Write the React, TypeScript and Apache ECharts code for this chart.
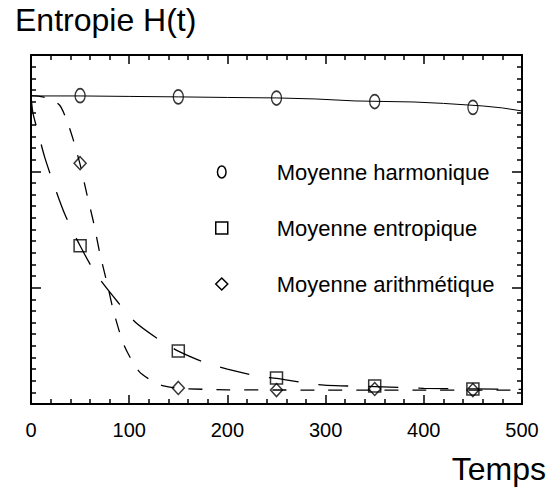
import React, { useEffect, useRef } from "react";
import * as echarts from "echarts";

const FONT = "'Liberation Sans', Arial, Helvetica, sans-serif";

const xMin = 0;
const xMax = 500;
const xInterval = 100;
const yMin = 0;
const yMax = 3;
const yInterval = 1;

const seriesNames = ["Moyenne harmonique", "Moyenne entropique", "Moyenne arithmétique"];

// Marker positions (sample times) and values
const markerX = [50, 150, 250, 350, 450];
const harmonicMarkers = [2.65, 2.64, 2.63, 2.6, 2.55];
const entropicMarkers = [1.36, 0.456, 0.224, 0.155, 0.129];
const arithmeticMarkers = [2.07, 0.138, 0.12, 0.129, 0.12];

// Curves
const harmonicCurveX = [0, 50, 100, 150, 200, 250, 290, 330, 390, 420, 460, 480, 500];
const harmonicCurveY = [2.648, 2.648, 2.644, 2.64, 2.635, 2.631, 2.622, 2.605, 2.596, 2.584, 2.562, 2.545, 2.519];

const entropicCurveX = [0, 2, 7, 14, 26, 35, 50, 66, 89, 106, 131, 150, 179, 200, 231, 250, 287, 310, 350, 400, 450, 500];
const entropicCurveY = [2.65, 2.5, 2.34, 2.12, 1.82, 1.62, 1.36, 1.12, 0.87, 0.705, 0.55, 0.455, 0.35, 0.3, 0.24, 0.22, 0.172, 0.158, 0.15, 0.135, 0.13, 0.125];

const arithmeticCurveX = [0, 12, 20, 29, 35, 42, 50, 57, 64, 70, 78, 84, 95, 110, 125, 135, 150, 200, 300, 400, 500];
const arithmeticCurveY = [2.65, 2.64, 2.62, 2.57, 2.47, 2.3, 2.06, 1.8, 1.55, 1.3, 1.02, 0.8, 0.5, 0.28, 0.19, 0.155, 0.135, 0.122, 0.12, 0.12, 0.12];

const zip = (xs: number[], ys: number[]) => xs.map((x, i) => [x, ys[i]]);

const ELLIPSE = "path://M5,0 A5,7 0 1,1 5,14 A5,7 0 1,1 5,0 Z";
const SQUARE = "path://M0,0 L10,0 L10,10 L0,10 Z";
const DIAMOND = "path://M5,0 L10,5 L5,10 L0,5 Z";

export default function App() {
  const ref = useRef<HTMLDivElement>(null);

  useEffect(() => {
    if (!ref.current) return;
    const chart = echarts.init(ref.current, undefined, { renderer: "svg" });

    const axisCommon = {
      type: "value" as const,
      axisLine: { show: true, onZero: false, lineStyle: { color: "#000", width: 2 } },
      splitLine: { show: false },
    };

    const markerStyle = { color: "rgba(0,0,0,0)", borderColor: "#000", borderWidth: 1.5 };

    chart.setOption({
      animation: false,
      backgroundColor: "#fff",
      textStyle: { fontFamily: FONT },
      title: [
        {
          text: "Entropie H(t)",
          left: 15,
          top: 4,
          padding: 0,
          textStyle: { fontFamily: FONT, fontSize: 32, fontWeight: "normal", color: "#000" },
        },
        {
          text: "Temps",
          right: 3,
          top: 453,
          padding: 0,
          textStyle: { fontFamily: FONT, fontSize: 32, fontWeight: "normal", color: "#000" },
        },
      ],
      grid: { left: 31, right: 27, top: 55, bottom: 85, containLabel: false },
      legend: {
        orient: "vertical",
        left: 210,
        top: 156,
        itemGap: 34,
        itemWidth: 12,
        itemHeight: 12,
        selectedMode: false,
        textStyle: { fontFamily: FONT, fontSize: 22, color: "#000", padding: [0, 0, 0, 44] },
        data: [
          { name: seriesNames[0], icon: ELLIPSE, itemStyle: markerStyle },
          { name: seriesNames[1], icon: SQUARE, itemStyle: markerStyle },
          { name: seriesNames[2], icon: DIAMOND, itemStyle: markerStyle },
        ],
      },
      xAxis: [
        {
          ...axisCommon,
          min: xMin,
          max: xMax,
          interval: xInterval,
          position: "bottom",
          axisTick: { show: true, inside: true, length: 9, lineStyle: { color: "#000", width: 1.5 } },
          minorTick: { show: true, splitNumber: 5, length: 5, lineStyle: { color: "#000", width: 1.5 } },
          axisLabel: { show: true, color: "#000", fontSize: 20, margin: 16, fontFamily: FONT },
        },
        {
          ...axisCommon,
          min: xMin,
          max: xMax,
          interval: xInterval,
          position: "top",
          axisTick: { show: true, inside: true, length: 9, lineStyle: { color: "#000", width: 1.5 } },
          minorTick: { show: true, splitNumber: 5, length: 5, lineStyle: { color: "#000", width: 1.5 } },
          axisLabel: { show: false },
        },
      ],
      yAxis: [
        {
          ...axisCommon,
          min: yMin,
          max: yMax,
          interval: yInterval,
          position: "left",
          axisTick: { show: true, inside: true, length: 10, lineStyle: { color: "#000", width: 1.5 } },
          minorTick: { show: true, splitNumber: 10, length: 5, lineStyle: { color: "#000", width: 1.5 } },
          axisLabel: { show: false },
        },
        {
          ...axisCommon,
          min: yMin,
          max: yMax,
          interval: yInterval,
          position: "right",
          axisTick: { show: true, inside: true, length: 10, lineStyle: { color: "#000", width: 1.5 } },
          minorTick: { show: true, splitNumber: 10, length: 5, lineStyle: { color: "#000", width: 1.5 } },
          axisLabel: { show: false },
        },
      ],
      series: [
        {
          name: seriesNames[0],
          type: "line",
          data: zip(harmonicCurveX, harmonicCurveY),
          showSymbol: false,
          symbol: "none",
          lineStyle: { color: "#000", width: 1 },
          itemStyle: { color: "#000" },
        },
        {
          name: seriesNames[1],
          type: "line",
          data: zip(entropicCurveX, entropicCurveY),
          showSymbol: false,
          symbol: "none",
          smooth: 0.25,
          lineStyle: { color: "#000", width: 1.3, type: [30, 20] },
          itemStyle: { color: "#000" },
        },
        {
          name: seriesNames[2],
          type: "line",
          data: zip(arithmeticCurveX, arithmeticCurveY),
          showSymbol: false,
          symbol: "none",
          smooth: 0.25,
          lineStyle: { color: "#000", width: 1.3, type: [14, 14] },
          itemStyle: { color: "#000" },
        },
        {
          name: seriesNames[0],
          type: "scatter",
          data: zip(markerX, harmonicMarkers),
          symbol: ELLIPSE,
          symbolSize: [10, 14],
          symbolKeepAspect: false,
          itemStyle: markerStyle,
          z: 5,
        },
        {
          name: seriesNames[1],
          type: "scatter",
          data: zip(markerX, entropicMarkers),
          symbol: SQUARE,
          symbolSize: 12,
          itemStyle: markerStyle,
          z: 5,
        },
        {
          name: seriesNames[2],
          type: "scatter",
          data: zip(markerX, arithmeticMarkers),
          symbol: DIAMOND,
          symbolSize: [12, 13],
          itemStyle: markerStyle,
          z: 5,
        },
      ],
    });

    return () => chart.dispose();
  }, []);

  return (
    <div
      ref={ref}
      style={{ position: "absolute", left: 0, top: 0, width: 549, height: 489 }}
    />
  );
}
